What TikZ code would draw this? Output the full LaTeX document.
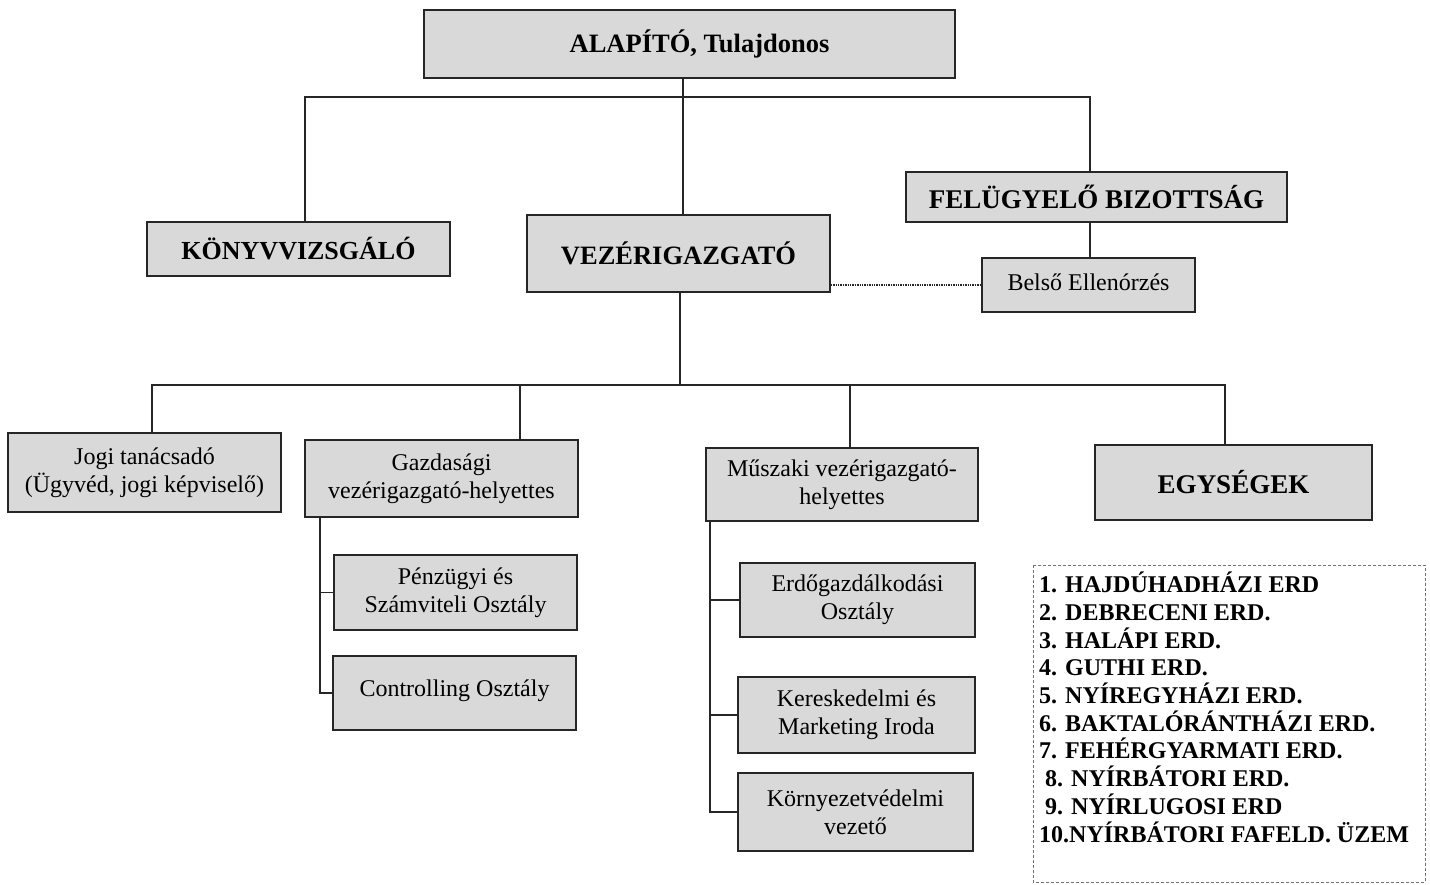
\documentclass[tikz,border=0pt]{standalone}
\usepackage{fontspec}
\setmainfont{Liberation Serif}
\begin{document}
\begin{tikzpicture}[x=1pt,y=-1pt,
  box/.style={draw=black!85,line width=1.5pt,fill=black!15,inner sep=0pt,align=center,
    font=\fontsize{24}{28}\selectfont},
  tbox/.style={box,font=\fontsize{26}{30}\selectfont\bfseries},
  conn/.style={draw=black!85,line width=1.4pt},
]
\fill[white] (0,0) rectangle (1430,885);
\useasboundingbox (0,0) rectangle (1430,885);

\node[tbox,minimum width=531pt,minimum height=68pt,font=\fontsize{26.5}{30}\selectfont\bfseries] (alap) at (689.5,44) {\hspace*{20pt}ALAPÍTÓ, Tulajdonos};
\node[tbox,minimum width=303pt,minimum height=54pt,font=\fontsize{26}{30}\selectfont\bfseries] (konyv) at (298.5,249) {KÖNYVVIZSGÁLÓ};
\node[tbox,minimum width=303pt,minimum height=77pt,font=\fontsize{26.5}{30}\selectfont\bfseries] (vez) at (678.5,253.5) {VEZÉRIGAZGATÓ};
\node[tbox,minimum width=381pt,minimum height=50pt,font=\fontsize{27}{30}\selectfont\bfseries] (felu) at (1096.5,197) {FELÜGYELŐ BIZOTTSÁG};
\node[box,minimum width=213pt,minimum height=54pt] (belso) at (1088.5,285) {\raisebox{6pt}{Belső Ellenórzés}};

\node[box,minimum width=273pt,minimum height=79pt] (jogi) at (144.5,472.5) {Jogi tanácsadó\\(Ügyvéd, jogi képviselő)};
\node[box,minimum width=273pt,minimum height=77pt] (gazd) at (441.5,478.5) {Gazdasági\\vezérigazgató-helyettes};
\node[box,minimum width=272pt,minimum height=73pt] (musz) at (842,484.5) {Műszaki vezérigazgató-\\helyettes};
\node[tbox,minimum width=277pt,minimum height=75pt,font=\fontsize{27}{30}\selectfont\bfseries] (egys) at (1233.5,482.5) {EGYSÉGEK};

\node[box,minimum width=243pt,minimum height=75pt] (penz) at (455.5,592.5) {Pénzügyi és\\Számviteli Osztály};
\node[box,minimum width=243pt,minimum height=74pt] (contr) at (454.5,693) {\raisebox{9pt}{Controlling Osztály}};

\node[box,minimum width=235pt,minimum height=74pt] (erdo) at (857.5,600) {Erdőgazdálkodási\\Osztály};
\node[box,minimum width=237pt,minimum height=76pt] (keres) at (856.5,715) {Kereskedelmi és\\Marketing Iroda};
\node[box,minimum width=235pt,minimum height=78pt] (korny) at (855.5,812) {Környezetvédelmi\\vezető};

% list of units
\draw[black!55,line width=0.8pt,densely dashed] (1033,565) rectangle (1425,882);
\node[anchor=north west,align=left,inner sep=0pt,font=\fontsize{24}{27.7}\selectfont\bfseries] (lista) at (1039,572)
{1. HAJDÚHADHÁZI ERD\\
2. DEBRECENI ERD.\\
3. HALÁPI ERD.\\
4. GUTHI ERD.\\
5. NYÍREGYHÁZI ERD.\\
6. BAKTALÓRÁNTHÁZI ERD.\\
7. FEHÉRGYARMATI ERD.\\
\hspace*{6pt}8. NYÍRBÁTORI ERD.\\
\hspace*{6pt}9. NYÍRLUGOSI ERD\\
10.NYÍRBÁTORI FAFELD. ÜZEM};

% top connectors
\coordinate (tC) at (683,97);
\coordinate (tL) at (305,97);
\coordinate (tR) at (1090,97);
\draw[conn] (tC |- alap.south) -- (tC |- vez.north);
\draw[conn] (tL |- konyv.north) -- (tL) -- (tR) -- (tR |- felu.north);
\draw[conn] (tR |- felu.south) -- (tR |- belso.north);
\draw[black!85,line width=1.4pt,densely dotted] (vez.east |- belso.west) -- (belso.west);

% middle bus
\coordinate (mC) at (680,385);
\coordinate (mL) at (152,385);
\coordinate (mR) at (1225,385);
\coordinate (mG) at (520,385);
\coordinate (mM) at (850,385);
\draw[conn] (mC |- vez.south) -- (mC);
\draw[conn] (mL |- jogi.north) -- (mL) -- (mR) -- (mR |- egys.north);
\draw[conn] (mG) -- (mG |- gazd.north);
\draw[conn] (mM) -- (mM |- musz.north);

% Gazdasagi bracket
\coordinate (gb) at (320,0);
\draw[conn] (gb |- gazd.south) -- (gb |- contr.west) -- (contr.west);
\draw[conn] (gb |- penz.west) -- (penz.west);

% Muszaki bracket
\coordinate (mb) at (710,0);
\draw[conn] (mb |- musz.south) -- (mb |- korny.west) -- (korny.west);
\draw[conn] (mb |- erdo.west) -- (erdo.west);
\draw[conn] (mb |- keres.west) -- (keres.west);
\end{tikzpicture}
\end{document}
